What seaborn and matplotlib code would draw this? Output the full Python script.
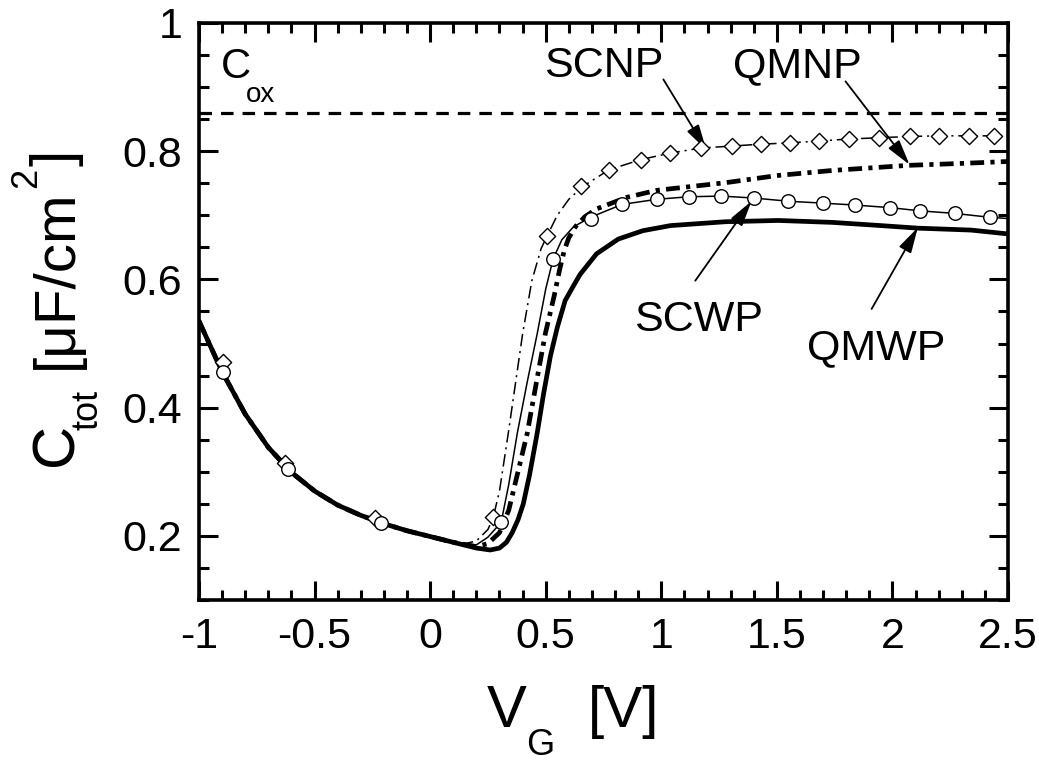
import matplotlib
matplotlib.use("Agg")
import matplotlib.pyplot as plt
import seaborn as sns
from matplotlib.ticker import FixedLocator, MultipleLocator, FixedFormatter

# --- data (VG in V, C in uF/cm^2) ---
# depletion branch shared by all four models
vg_left = [-1.0, -0.9, -0.8, -0.7, -0.6, -0.5, -0.4, -0.3, -0.2, -0.1, 0.0, 0.1]
c_left = [0.535, 0.456, 0.39, 0.338, 0.299, 0.27, 0.248, 0.232, 0.219, 0.208, 0.199, 0.19]

vg_scnp = [0.15, 0.2, 0.25, 0.273, 0.30, 0.338, 0.37, 0.40, 0.44, 0.48, 0.506, 0.55, 0.6,
           0.66, 0.774, 0.912, 1.039, 1.17, 1.304, 1.43, 1.556, 1.684, 1.81, 1.94, 2.076,
           2.2, 2.33, 2.44, 2.5]
c_scnp = [0.188, 0.192, 0.21, 0.229, 0.27, 0.36, 0.44, 0.515, 0.598, 0.648, 0.668, 0.70, 0.725,
          0.745, 0.771, 0.787, 0.797, 0.805, 0.808, 0.811, 0.813, 0.816, 0.819, 0.821, 0.823,
          0.824, 0.824, 0.824, 0.825]

vg_qmnp = [0.2, 0.25, 0.3, 0.34, 0.38, 0.42, 0.46, 0.498, 0.537, 0.56, 0.58, 0.6, 0.63, 0.67,
           0.72, 0.85, 0.98, 1.28, 1.5, 1.74, 2.07, 2.3, 2.5]
c_qmnp = [0.183, 0.188, 0.205, 0.24, 0.30, 0.36, 0.44, 0.515, 0.575, 0.615, 0.645, 0.665, 0.683,
          0.698, 0.71, 0.728, 0.739, 0.751, 0.762, 0.77, 0.778, 0.781, 0.784]

vg_scwp = [0.15, 0.2, 0.25, 0.307, 0.34, 0.377, 0.42, 0.463, 0.50, 0.532, 0.57, 0.62, 0.694,
           0.83, 0.98, 1.12, 1.26, 1.40, 1.55, 1.70, 1.84, 1.99, 2.12, 2.27, 2.42, 2.5]
c_scwp = [0.188, 0.186, 0.198, 0.221, 0.28, 0.36, 0.44, 0.515, 0.585, 0.632, 0.662, 0.682, 0.697,
          0.717, 0.725, 0.729, 0.73, 0.727, 0.722, 0.719, 0.716, 0.712, 0.707, 0.703, 0.697, 0.695]

vg_qmwp = [0.2, 0.26, 0.30, 0.33, 0.355, 0.38, 0.403, 0.43, 0.463, 0.49, 0.52, 0.55, 0.584, 0.62,
           0.649, 0.72, 0.814, 0.92, 1.04, 1.277, 1.506, 1.74, 1.95, 2.11, 2.34, 2.5]
c_qmwp = [0.181, 0.178, 0.181, 0.19, 0.205, 0.225, 0.25, 0.295, 0.36, 0.42, 0.48, 0.525, 0.567,
          0.59, 0.608, 0.64, 0.663, 0.676, 0.684, 0.69, 0.692, 0.689, 0.684, 0.68, 0.677, 0.671]

# symbols
vg_diamonds = [-0.896, -0.628, -0.238, 0.273, 0.506, 0.652, 0.774, 0.912, 1.039, 1.17, 1.304,
               1.43, 1.556, 1.684, 1.81, 1.94, 2.076, 2.2, 2.33, 2.44]
c_diamonds = [0.472, 0.313, 0.228, 0.229, 0.668, 0.746, 0.771, 0.787, 0.797, 0.805, 0.808,
              0.811, 0.813, 0.816, 0.819, 0.821, 0.823, 0.824, 0.824, 0.824]
vg_circles = [-0.896, -0.615, -0.212, 0.307, 0.532, 0.694, 0.83, 0.98, 1.12, 1.26, 1.40, 1.55,
              1.70, 1.84, 1.99, 2.12, 2.27, 2.42]
c_circles = [0.455, 0.304, 0.220, 0.221, 0.632, 0.695, 0.717, 0.725, 0.729, 0.73, 0.727, 0.722,
             0.719, 0.716, 0.712, 0.707, 0.703, 0.697]

c_ox = 0.86

# labels and arrows: (text, text x, text y, arrow start, arrow tip)
labels = [
    ("SCNP", 0.749, 0.916, (1.009, 0.912), (1.195, 0.802)),
    ("QMNP", 1.589, 0.916, (1.797, 0.909), (2.074, 0.779)),
    ("SCWP", 1.160, 0.520, (1.147, 0.598), (1.390, 0.722)),
    ("QMWP", 1.931, 0.476, (1.910, 0.554), (2.110, 0.681)),
]

x_ticks = [-1, -0.5, 0, 0.5, 1, 1.5, 2, 2.5]
x_ticklabels = ["-1", "-0.5", "0", "0.5", "1", "1.5", "2", "2.5"]
y_ticks = [0.2, 0.4, 0.6, 0.8, 1.0]
y_ticklabels = ["0.2", "0.4", "0.6", "0.8", "1"]

# --- style ---
sns.set_style("ticks")
plt.rcParams["font.family"] = ["Liberation Sans", "DejaVu Sans"]
plt.rcParams["lines.scale_dashes"] = False
for key in ["text.color", "axes.labelcolor", "xtick.color", "ytick.color", "axes.edgecolor"]:
    plt.rcParams[key] = "black"

W, H = 1039, 763
fig = plt.figure(figsize=(W / 100, H / 100), dpi=100)
ax = fig.add_axes([199 / W, 163 / H, 809 / W, 577 / H])

# oxide capacitance
ax.axhline(c_ox, color="k", lw=2.3, linestyle=(0, (9, 6.5)), zorder=2)

# curves
sns.lineplot(x=vg_left + vg_qmwp, y=c_left + c_qmwp, sort=False, color="k", lw=3.4, ax=ax, zorder=3)
sns.lineplot(x=vg_left + vg_qmnp, y=c_left + c_qmnp, sort=False, color="k", lw=3.4,
             linestyle=(0, (10, 4.5, 3, 4.5)), ax=ax, zorder=3)
sns.lineplot(x=vg_left + vg_scwp, y=c_left + c_scwp, sort=False, color="k", lw=1.1, ax=ax, zorder=3)
sns.lineplot(x=vg_left + vg_scnp, y=c_left + c_scnp, sort=False, color="k", lw=1.1,
             linestyle=(0, (9, 3.5, 1.5, 3.5)), ax=ax, zorder=3)

# symbols
sns.scatterplot(x=vg_diamonds, y=c_diamonds, marker="D", s=68, facecolor="white",
                edgecolor="k", linewidth=1.0, ax=ax, zorder=4)
sns.scatterplot(x=vg_circles, y=c_circles, marker="o", s=95, facecolor="white",
                edgecolor="k", linewidth=1.0, ax=ax, zorder=5)

# annotations
for name, tx, ty, start, tip in labels:
    ax.text(tx, ty, name, fontsize=31, ha="center", va="baseline")
    ax.annotate("", xy=tip, xytext=start,
                arrowprops=dict(arrowstyle="-|>,head_length=0.6,head_width=0.16", color="k",
                                lw=1.3, mutation_scale=26, shrinkA=0, shrinkB=0))

# axes
ax.set_xlim(-1, 2.5)
ax.set_ylim(0.1, 1.0)
ax.xaxis.set_major_locator(FixedLocator(x_ticks))
ax.xaxis.set_major_formatter(FixedFormatter(x_ticklabels))
ax.xaxis.set_minor_locator(MultipleLocator(0.1))
ax.yaxis.set_major_locator(FixedLocator(y_ticks))
ax.yaxis.set_major_formatter(FixedFormatter(y_ticklabels))
ax.yaxis.set_minor_locator(MultipleLocator(0.05))
ax.tick_params(which="both", direction="in", top=True, right=True, width=2.2, color="k",
               labelcolor="k")
ax.tick_params(which="major", length=14, labelsize=31, pad=12)
ax.tick_params(which="minor", length=7)
for sp in ax.spines.values():
    sp.set_linewidth(2.6)
    sp.set_color("k")
ax.set_xlabel("")
ax.set_ylabel("")


def put(s, x, y, size, rot=0):
    # place a text piece at pixel position (x from left, y from top), baseline anchored
    fig.text(x / W, 1 - y / H, s, fontsize=size, ha="left", va="baseline",
             rotation=rot, rotation_mode="anchor", color="k")


# C_ox label
put("C", 221, 78, 30)
put("ox", 246, 102, 20)

# x label: V_G [V]
put("V", 487, 727, 43)
put("G", 526, 755, 26)
put("[V]", 588, 727, 42)

# y label: C_tot [uF/cm^2], rotated
put("C", 72, 466, 43, rot=90)
put("tot", 98, 430, 26, rot=90)
put("[\u03bcF/cm", 72, 369, 42, rot=90)
put("2", 36, 188, 26, rot=90)
put("]", 72, 166, 42, rot=90)

fig.savefig("out.png", dpi=100)
